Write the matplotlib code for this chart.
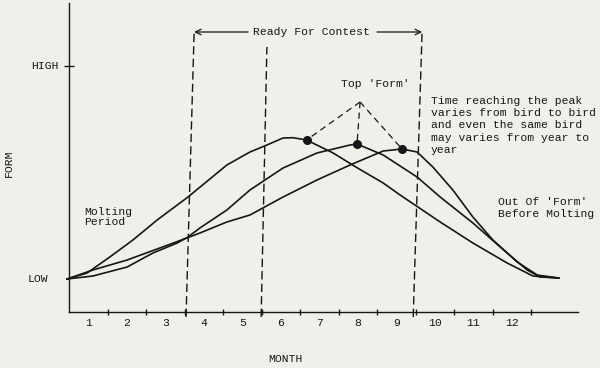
import numpy as np
import matplotlib
matplotlib.use("Agg")
import matplotlib.pyplot as plt

# Form of three birds through the year (x = month position, y = form level)
bird_a_x = [-0.05, 0.47, 1.06, 1.66, 2.29, 3.09, 4.10, 4.70, 5.14, 5.56, 5.82, 6.17,
            6.86, 7.45, 8.16, 8.60, 9.64, 10.49, 11.38, 12.05, 12.72]
bird_a_y = [33, 39, 55, 72, 92, 115, 147, 160, 167, 174, 174.3, 172,
            159, 145, 129, 117, 90, 69, 49, 36, 34]

bird_b_x = [-0.05, 0.62, 1.51, 2.18, 2.81, 3.09, 3.40, 4.10, 4.70, 5.56, 6.44, 7.30,
            7.48, 8.16, 9.04, 9.64, 10.49, 11.38, 11.90, 12.23, 12.72]
bird_b_y = [33, 36, 45, 59, 69, 75, 84, 102, 122, 144, 159, 167,
            168, 157, 135, 115, 89, 59, 42, 35, 34]

bird_c_x = [-0.05, 0.62, 1.51, 2.36, 3.06, 3.40, 4.10, 4.70, 5.56, 6.44, 7.30, 8.16,
            8.65, 9.04, 9.45, 9.97, 10.49, 11.01, 11.64, 12.16, 12.72]
bird_c_y = [33, 42, 52, 64, 74, 79, 90, 97, 115, 132, 147, 161,
            163, 160, 145, 122, 95, 72, 50, 37, 34]

# peak dots and the 'Top Form' apex
peak_x = [6.17, 7.48, 8.65]
peak_y = [172, 168, 163]
apex = (7.56, 210)

# hand-drawn (slightly slanted) dashed verticals: (x bottom, x top, y top)
contest_lines = [(3.04, 3.25, 280), (4.99, 5.14, 265), (8.94, 9.17, 280)]

month_ticks = list(range(1, 13))
month_labels = [str(m) for m in month_ticks]
low_level = 33
high_level = 246

ink = "#161616"
paper = "#f1efea"
mono = "Liberation Mono"
fs = 8.2

fig = plt.figure(figsize=(6, 3.68), dpi=100, facecolor=paper)
ax = fig.add_axes([69 / 600, 1 - 312 / 368, 509 / 600, 309 / 368])
ax.set_facecolor(paper)
ax.set_xlim(0, 13.22)
ax.set_ylim(0, 309)

for xs, ys in [(bird_a_x, bird_a_y), (bird_b_x, bird_b_y), (bird_c_x, bird_c_y)]:
    ax.plot(xs, ys, color=ink, lw=1.2, solid_joinstyle="round", clip_on=False)

ax.plot(peak_x, peak_y, "o", color=ink, ms=5.5, zorder=5)

# dashed lines from apex down to each peak
for px, py in zip(peak_x, peak_y):
    ax.plot([apex[0], px], [apex[1], py], color=ink, lw=0.9, dashes=(5, 3.5))

for xb, xt, yt in contest_lines:
    ax.plot([xb, xt], [-5, yt], color=ink, lw=1.0, dashes=(6, 3), clip_on=False)

# Ready For Contest arrows
ax.annotate("", xy=(3.25, 280), xytext=(4.65, 280),
            arrowprops=dict(arrowstyle="->", lw=0.9, color=ink, shrinkA=0, shrinkB=0))
ax.annotate("", xy=(9.17, 280), xytext=(8.0, 280),
            arrowprops=dict(arrowstyle="->", lw=0.9, color=ink, shrinkA=0, shrinkB=0))
ax.text(6.30, 280, "Ready For Contest", family=mono, fontsize=fs, color=ink,
        ha="center", va="center")

ax.text(7.97, 228, "Top 'Form'", family=mono, fontsize=fs, color=ink,
        ha="center", va="center")
ax.text(9.40, 186.5, "Time reaching the peak\nvaries from bird to bird\n"
        "and even the same bird\nmay varies from year to\nyear",
        family=mono, fontsize=fs, color=ink, ha="left", va="center", linespacing=1.27)
ax.text(0.39, 95, "Molting\nPeriod", family=mono, fontsize=fs, color=ink,
        ha="left", va="center", linespacing=1.1)
ax.text(11.14, 104, "Out Of 'Form'\nBefore Molting", family=mono, fontsize=fs,
        color=ink, ha="left", va="center", linespacing=1.27, clip_on=False)

# axes styling
for side in ["top", "right"]:
    ax.spines[side].set_visible(False)
for side in ["left", "bottom"]:
    ax.spines[side].set_color(ink)
    ax.spines[side].set_linewidth(1.0)

ax.set_xticks(month_ticks)
ax.set_xticklabels([])
ax.tick_params(axis="x", which="major", direction="inout", length=5, width=1, color=ink)
ax.set_xticks([m - 0.5 for m in month_ticks], minor=True)
ax.set_xticklabels(month_labels, minor=True, family=mono, fontsize=fs, color=ink)
ax.tick_params(axis="x", which="minor", length=0, pad=4)

ax.set_yticks([high_level])
ax.set_yticklabels([])
ax.tick_params(axis="y", direction="inout", length=7, width=1, color=ink)
ytr = ax.get_yaxis_transform()
ax.text(-0.0196, high_level, "HIGH", transform=ytr, family=mono, fontsize=fs,
        color=ink, ha="right", va="center")
ax.text(-0.041, low_level, "LOW", transform=ytr, family=mono, fontsize=fs,
        color=ink, ha="right", va="center")

fig.text(8.5 / 600, 1 - 163 / 368, "FORM", family=mono, fontsize=fs, color=ink,
         rotation=90, ha="center", va="center")
fig.text(285 / 600, 1 - 359 / 368, "MONTH", family=mono, fontsize=fs, color=ink,
         ha="center", va="center")

fig.savefig("out.png", dpi=100, facecolor=paper)
